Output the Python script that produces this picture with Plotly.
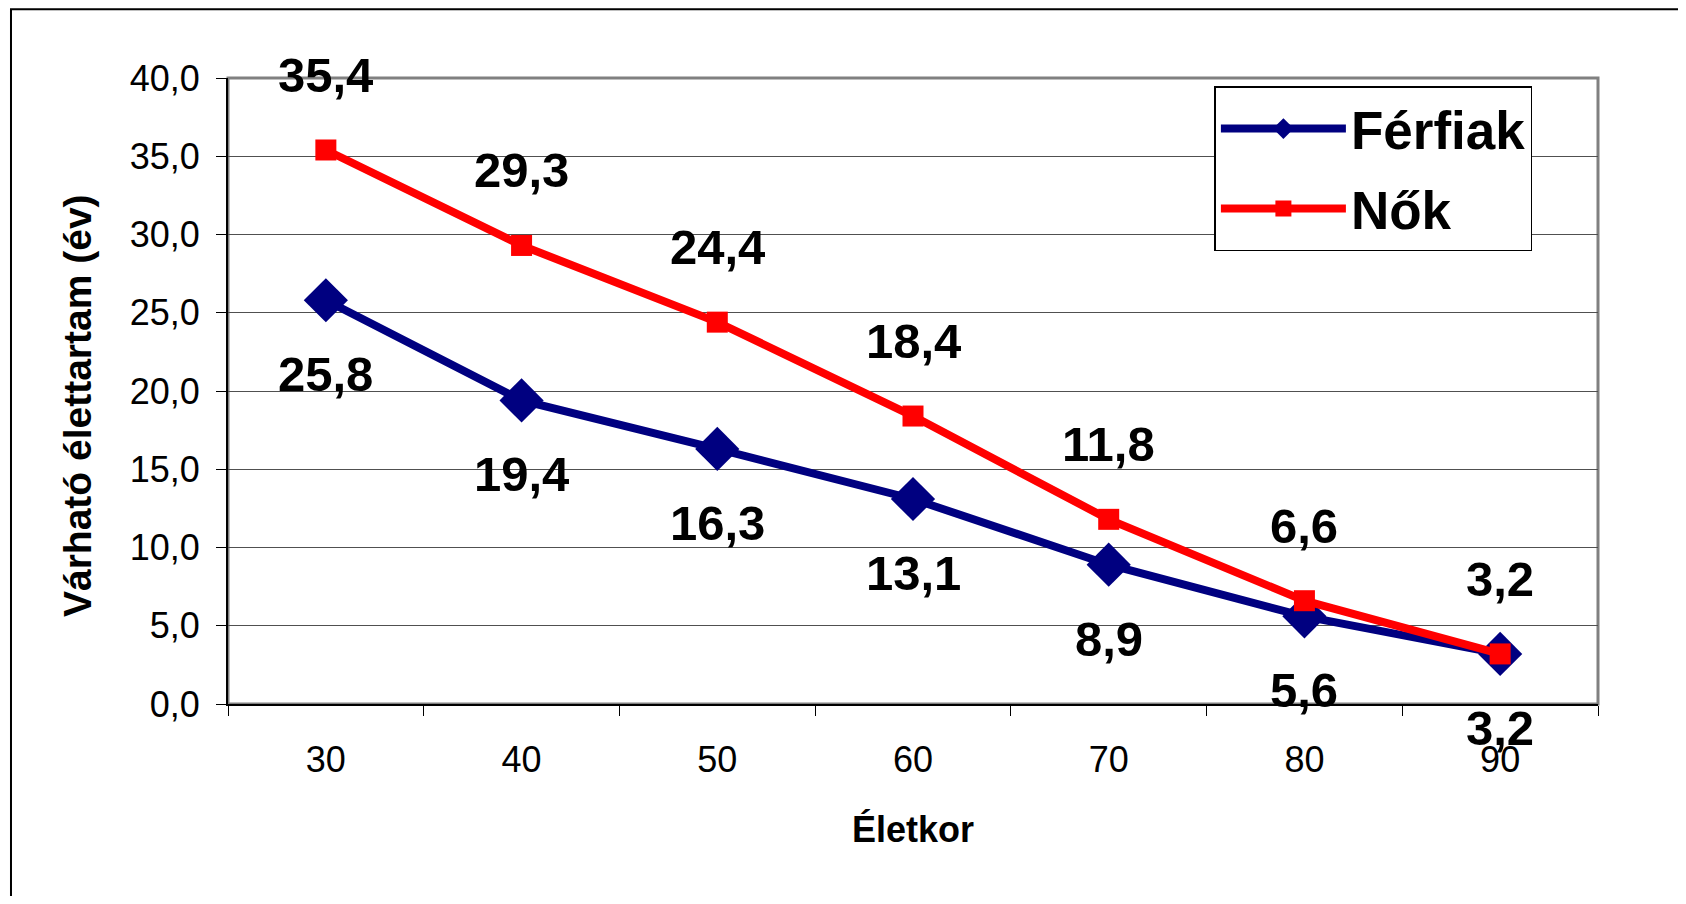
import plotly.graph_objects as go

ages = ["30", "40", "50", "60", "70", "80", "90"]
ferfiak = [25.8, 19.4, 16.3, 13.1, 8.9, 5.6, 3.2]
nok = [35.4, 29.3, 24.4, 18.4, 11.8, 6.6, 3.2]
y_ticks = [0, 5, 10, 15, 20, 25, 30, 35, 40]

def hu(v):
    return f"{v:.1f}".replace(".", ",")

FONT = "Arial, Liberation Sans, sans-serif"

fig = go.Figure()
fig.add_trace(go.Scatter(
    x=ages, y=ferfiak, name="Férfiak", mode="lines+markers", legendgroup="f",
    line=dict(color="#000080", width=8),
    marker=dict(symbol="diamond", size=34, color="#000080"),
))
fig.add_trace(go.Scatter(
    x=ages, y=nok, name="Nők", mode="lines+markers", legendgroup="n",
    line=dict(color="#FF0000", width=8),
    marker=dict(symbol="square", size=21, color="#FF0000"),
))

for i, v in enumerate(nok):
    fig.add_annotation(x=i, y=v, text=hu(v), showarrow=False, yshift=75,
                       font=dict(family=FONT, size=49, color="black", weight="bold"))
for i, v in enumerate(ferfiak):
    fig.add_annotation(x=i, y=v, text=hu(v), showarrow=False, yshift=-74,
                       font=dict(family=FONT, size=49, color="black", weight="bold"))

# y axis title
fig.add_annotation(xref="paper", yref="paper", x=-0.1102, y=0.476,
                   text="Várható élettartam (év)", textangle=-90, showarrow=False,
                   xanchor="center", yanchor="middle",
                   font=dict(family=FONT, size=39, color="black", weight="bold"))

# plot area border (gray)
fig.add_shape(type="rect", xref="paper", yref="paper", x0=0, y0=0, x1=1, y1=1,
              line=dict(color="#808080", width=3), layer="below")
# outer chart frame
fig.add_shape(type="rect", xref="paper", yref="paper", x0=-0.1584, y0=-0.5, x1=1.2, y1=1.110,
              line=dict(color="black", width=2))

fig.update_layout(
    width=1670, height=888,
    margin=dict(l=220, r=80, t=70, b=192),
    paper_bgcolor="white", plot_bgcolor="white",
    font=dict(family=FONT, color="black"),
    showlegend=True,
    legend=dict(
        x=0.72, y=0.987, xanchor="left", yanchor="top",
        bgcolor="white", bordercolor="black", borderwidth=1.5,
        font=dict(family=FONT, size=53, color="black", weight="bold"),
        itemwidth=125, tracegroupgap=8,
    ),
    xaxis=dict(
        type="category", range=[-0.5, 6.5],
        tickson="boundaries", ticks="outside", ticklen=10, tickcolor="black",
        showline=True, linecolor="black", linewidth=2,
        showgrid=False, zeroline=False,
        tickfont=dict(family=FONT, size=36, color="black"),
        ticklabelstandoff=23,
        title=dict(text="Életkor", font=dict(family=FONT, size=36, color="black", weight="bold"),
                   standoff=38),
    ),
    yaxis=dict(
        range=[0, 40], tickvals=y_ticks, ticktext=[hu(v) for v in y_ticks],
        ticks="outside", ticklen=10, tickcolor="black",
        showline=True, linecolor="black", linewidth=2,
        showgrid=True, gridcolor="#505050", gridwidth=1,
        zeroline=False,
        tickfont=dict(family=FONT, size=36, color="black"),
        ticklabelstandoff=9,
    ),
)

fig.write_html("out.html")
